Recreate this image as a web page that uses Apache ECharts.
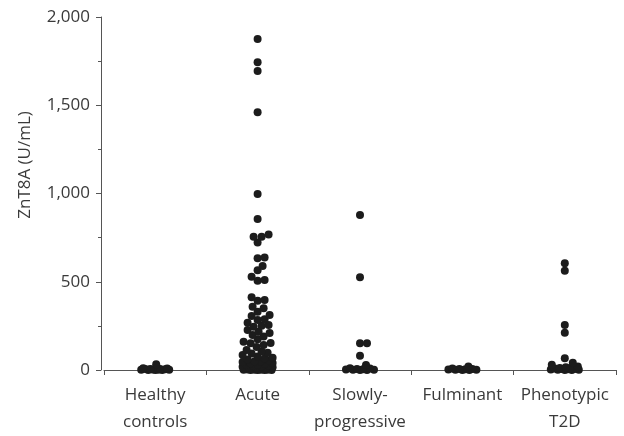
<!DOCTYPE html>
<html><head><meta charset="utf-8">
<script src="https://cdn.jsdelivr.net/npm/echarts@6/dist/echarts.min.js"></script>
<style>html,body{margin:0;padding:0;background:#fff}#c{width:624px;height:436px}</style>
</head><body><div id="c"></div>
<script>
const categories = ['Healthy\ncontrols', 'Acute', 'Slowly-\nprogressive', 'Fulminant', 'Phenotypic\nT2D'];
const yTicks = [0, 500, 1000, 1500, 2000];
const healthy = [0, 0, 0, 1, 2, 2, 3, 4, 5, 5, 6, 8, 10, 32];
const acute = [1875, 1743, 1694, 1460, 997, 855, 768, 755, 755, 723, 638, 633, 589, 565, 529, 510, 506,
  412, 397, 393, 359, 350, 330, 312, 306, 287, 283, 268, 255, 251, 245, 227, 217, 210, 198, 190, 174,
  160, 153, 151, 142, 130, 113, 105, 98, 94, 85, 76, 70, 65, 60, 55, 50, 48, 45, 40, 38, 35, 30, 28,
  25, 22, 20, 18, 15, 12, 10, 10, 8, 6, 5, 5, 4, 3, 2, 2, 1, 1, 0, 0, 0, 0];
const slowly = [878, 525, 151, 151, 81, 28, 10, 8, 5, 4, 3, 2, 1, 0, 0];
const fulminant = [20, 8, 6, 5, 4, 3, 2, 1, 0, 0];
const phenotypic = [605, 563, 255, 211, 66, 41, 30, 20, 15, 12, 10, 8, 6, 5, 4, 3, 2, 1, 0, 0];
const groups = [healthy, acute, slowly, fulminant, phenotypic];

// layout
const G = {left: 104, right: 8, top: 17, bottom: 66, containLabel: false, outerBoundsMode: 'none'};
const W = 624, H = 436;
const gridW = W - G.left - G.right, gridH = H - G.top - G.bottom;
const yMax = 2000;
const pxPerY = gridH / yMax, pxPerCat = gridW / categories.length;

// simple beeswarm layout (positions only)
function swarm(vals, ci) {
  const minD = 6.5, step = 1, maxHalf = 15;
  const placed = [];
  const out = [];
  const sorted = vals.slice().sort((a, b) => a - b);
  for (const v of sorted) {
    const yp = v * pxPerY;
    let best = null, bestScore = -1;
    const cands = [0];
    for (let k = 1; k * step <= maxHalf; k++) { cands.push(k * step, -k * step); }
    for (const xo of cands) {
      let md = Infinity;
      for (const p of placed) { const d = Math.hypot(p[0] - xo, p[1] - yp); if (d < md) md = d; }
      if (md >= minD) { best = xo; bestScore = Infinity; break; }
      if (md > bestScore) { bestScore = md; best = xo; }
    }
    placed.push([best, yp]);
    out.push([ci + best / pxPerCat, v]);
  }
  return out;
}
const points = [];
groups.forEach((g, i) => swarm(g, i).forEach(p => points.push(p)));

const font = 'Open Sans';
const chart = echarts.init(document.getElementById('c'));
chart.setOption({
  animation: false,
  grid: G,
  xAxis: [{
    type: 'category', data: categories, boundaryGap: true,
    axisLine: {onZero: false, lineStyle: {color: '#555', width: 1}},
    axisTick: {show: true, length: 5, lineStyle: {color: '#555'}},
    axisLabel: {color: '#3a3a3a', fontSize: 17, fontFamily: font, margin: 12, lineHeight: 27, interval: 0}
  }, {
    type: 'value', min: -0.5, max: categories.length - 0.5, show: false
  }],
  yAxis: {
    type: 'value', min: yTicks[0], max: yTicks[yTicks.length - 1], interval: 500, offset: 3,
    splitLine: {show: false},
    axisLine: {show: true, onZero: false, lineStyle: {color: '#555', width: 1}},
    axisTick: {show: true, length: 5, lineStyle: {color: '#555'}},
    minorTick: {show: true, splitNumber: 2, length: 3, lineStyle: {color: '#555'}},
    axisLabel: {color: '#3a3a3a', fontSize: 17, fontFamily: font, margin: 11,
      formatter: v => v.toLocaleString('en-US')}
  },
  graphic: [{
    type: 'text', x: 25, y: 165, rotation: Math.PI / 2,
    style: {text: 'ZnT8A (U/mL)', fontSize: 17, fontFamily: font, fill: '#3a3a3a', align: 'center', verticalAlign: 'middle'}
  }],
  series: [{
    type: 'scatter', xAxisIndex: 1, data: points, symbolSize: 8,
    itemStyle: {color: '#1c1c1c', opacity: 1}
  }]
});
</script></body></html>
